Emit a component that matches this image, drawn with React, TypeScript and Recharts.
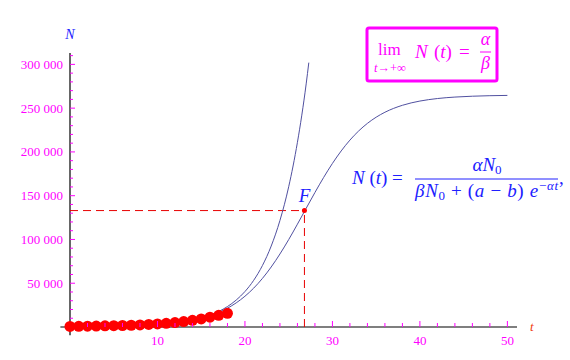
import React from "react";
import {
  ComposedChart,
  Line,
  Scatter,
  XAxis,
  YAxis,
  ReferenceLine,
  ReferenceDot,
} from "recharts";

// logistic model N(t)
const logisticT = [0, 2, 4, 6, 8, 10, 12, 14, 15, 16, 17, 18, 19, 20, 21, 22, 23, 24, 25, 26, 27, 28, 29, 30, 31, 32, 33, 34, 35, 36, 38, 40, 42, 44, 46, 48, 50];
const logisticN = [165, 287, 497, 860, 1486, 2565, 4415, 7560, 9860, 12830, 16640, 21480, 27570, 35140, 44400, 55520, 68550, 83410, 99850, 117470, 135610, 153640, 170910, 186850, 201100, 213500, 223950, 232620, 239670, 245300, 253270, 258100, 260980, 262660, 263640, 264220, 264550];

// exponential (Malthus) model
const expT = [0, 2, 4, 6, 8, 10, 12, 14, 15, 16, 17, 18, 19, 20, 21, 22, 23, 24, 25, 26, 26.5, 27, 27.3];
const expN = [166, 287, 498, 862, 1495, 2590, 4490, 7780, 10240, 13490, 17750, 23370, 30780, 40510, 53340, 70240, 92460, 121730, 160220, 210990, 242000, 277700, 302000];

// observed values
const obsT = [0, 1, 2, 3, 4, 5, 6, 7, 8, 9, 10, 11, 12, 13, 14, 15, 16, 17, 18];
const obsN = [700, 800, 900, 1100, 1300, 1500, 1700, 2000, 2400, 2900, 3500, 4200, 5100, 6200, 7600, 9200, 11200, 13300, 15600];

const xTicks = [2, 4, 6, 8, 10, 12, 14, 16, 18, 20, 22, 24, 26, 28, 30, 32, 34, 36, 38, 40, 42, 44, 46, 48, 50];
const yTicks = [10000, 20000, 30000, 40000, 50000, 60000, 70000, 80000, 90000, 100000, 110000, 120000, 130000, 140000, 150000, 160000, 170000, 180000, 190000, 200000, 210000, 220000, 230000, 240000, 250000, 260000, 270000, 280000, 290000, 300000, 310000];

const fT = 26.8;
const fN = 133000;

const logisticData = logisticT.map((t, i) => ({ t, n: logisticN[i] }));
const expData = expT.map((t, i) => ({ t, n: expN[i] }));
const obsData = obsT.map((t, i) => ({ t, n: obsN[i] }));

const SERIF = "'Liberation Serif', 'Times New Roman', serif";
const MAGENTA = "#ff00ff";
const BLUE = "#2020ff";
const CURVE = "#5050a0";

const fmt = (v: number) => {
  const s = String(v);
  return s.length > 3 ? s.slice(0, -3) + "\u00a0" + s.slice(-3) : s;
};

const XTick = (p: any) => {
  const v = p.payload.value;
  const major = v % 10 === 0;
  return (
    <g>
      <line x1={p.x} x2={p.x} y1={p.y} y2={p.y - (major ? 6 : 4)} stroke={MAGENTA} />
      {major && (
        <text x={p.x} y={p.y + 18} textAnchor="middle" fill={MAGENTA} fontSize={13} fontFamily={SERIF}>
          {v}
        </text>
      )}
    </g>
  );
};

const YTick = (p: any) => {
  const v = p.payload.value;
  const major = v % 50000 === 0;
  return (
    <g>
      <line x1={p.x} x2={p.x + (major ? 5 : 3)} y1={p.y} y2={p.y} stroke={MAGENTA} />
      {major && (
        <text x={p.x - 7} y={p.y + 4.5} textAnchor="end" fill={MAGENTA} fontSize={13} fontFamily={SERIF}>
          {fmt(v)}
        </text>
      )}
    </g>
  );
};

export default function App() {
  return (
    <div style={{ position: "absolute", left: 0, top: 0, width: 570, height: 360, background: "#fff" }}>
      <ComposedChart width={570} height={360} margin={{ top: 53, right: 53, bottom: 3, left: 0 }}>
        <XAxis
          dataKey="t"
          type="number"
          domain={[0, 51.1]}
          ticks={xTicks}
          interval={0}
          height={30}
          axisLine={false}
          tickLine={false}
          tickSize={0}
          tickMargin={0}
          tick={(p: any) => <XTick {...p} />}
        />
        <YAxis
          dataKey="n"
          type="number"
          domain={[0, 313000]}
          ticks={yTicks}
          interval={0}
          width={70}
          axisLine={false}
          tickLine={false}
          tickSize={0}
          tickMargin={0}
          tick={(p: any) => <YTick {...p} />}
        />
        <ReferenceLine segment={[{ x: -1.1, y: 0 }, { x: 51.1, y: 0 }]} stroke="#000" strokeWidth={1.2} ifOverflow="visible" />
        <ReferenceLine segment={[{ x: 0, y: -9500 }, { x: 0, y: 313000 }]} stroke="#000" strokeWidth={1.2} ifOverflow="visible" />
        <ReferenceLine segment={[{ x: 0, y: fN }, { x: fT, y: fN }]} stroke="#e80000" strokeDasharray="8 5" ifOverflow="visible" />
        <ReferenceLine segment={[{ x: fT, y: 0 }, { x: fT, y: fN }]} stroke="#e80000" strokeDasharray="8 5" ifOverflow="visible" />
        <Scatter
          data={obsData}
          dataKey="n"
          isAnimationActive={false}
          shape={(p: any) => <circle cx={p.cx} cy={p.cy} r={5.5} fill="#ff0000" />}
        />
        <Line data={expData} dataKey="n" type="monotone" stroke={CURVE} strokeWidth={1} dot={false} isAnimationActive={false} />
        <Line data={logisticData} dataKey="n" type="monotone" stroke={CURVE} strokeWidth={1} dot={false} isAnimationActive={false} />
        <ReferenceDot
          x={fT}
          y={fN}
          r={2.5}
          fill="#ff0000"
          stroke="none"
          ifOverflow="visible"
          label={{ value: "F", position: "top", offset: 6, fill: BLUE, fontSize: 19, fontStyle: "italic", fontFamily: SERIF }}
        />
      </ComposedChart>
      <svg width={570} height={360} style={{ position: "absolute", left: 0, top: 0, pointerEvents: "none" }} fontFamily={SERIF}>
        <text x={70} y={39} textAnchor="middle" fill={BLUE} fontSize={14} fontStyle="italic">N</text>
        <text x={530} y={331} fill="#f03c10" fontSize={13} fontStyle="italic">t</text>

        {/* limit box */}
        <rect x={367} y={28} width={130} height={53} rx={2} fill="#fff" stroke={MAGENTA} strokeWidth={3} />
        <text x={378} y={55} fill={MAGENTA} fontSize={17}>lim</text>
        <text x={390} y={72} textAnchor="middle" fill={MAGENTA} fontSize={12.5}>
          <tspan fontStyle="italic">t</tspan>→+∞
        </text>
        <text y={58} fill={MAGENTA} fontSize={19}>
          <tspan x={415} fontStyle="italic">N</tspan>
          <tspan x={434}>(</tspan>
          <tspan fontStyle="italic">t</tspan>
          <tspan>)</tspan>
          <tspan x={459}>=</tspan>
        </text>
        <text x={485.5} y={45} textAnchor="middle" fill={MAGENTA} fontSize={18} fontStyle="italic">α</text>
        <line x1={480} x2={491} y1={52} y2={52} stroke={MAGENTA} strokeWidth={1} />
        <text x={485.5} y={69} textAnchor="middle" fill={MAGENTA} fontSize={18} fontStyle="italic">β</text>

        {/* logistic formula */}
        <text x={352} y={184} fill={BLUE} fontSize={19}>
          <tspan fontStyle="italic">N</tspan>
          <tspan> (</tspan>
          <tspan fontStyle="italic">t</tspan>
          <tspan>) =</tspan>
        </text>
        <text x={487} y={171} textAnchor="middle" fill={BLUE} fontSize={19}>
          <tspan fontStyle="italic">αN</tspan>
          <tspan dy={3} fontSize={13}>0</tspan>
        </text>
        <line x1={415} x2={558} y1={179} y2={179} stroke={BLUE} strokeWidth={1} />
        <text x={415} y={197} fill={BLUE} fontSize={19} textLength={143}>
          <tspan fontStyle="italic">βN</tspan>
          <tspan dy={3} fontSize={13}>0</tspan>
          <tspan dy={-3}> + (</tspan>
          <tspan fontStyle="italic">a</tspan>
          <tspan> − </tspan>
          <tspan fontStyle="italic">b</tspan>
          <tspan>) </tspan>
          <tspan fontStyle="italic">e</tspan>
          <tspan dy={-7} fontSize={13}>−</tspan>
          <tspan fontSize={13} fontStyle="italic">αt</tspan>
        </text>
        <text x={559} y={184} fill={BLUE} fontSize={19}>,</text>
      </svg>
    </div>
  );
}
